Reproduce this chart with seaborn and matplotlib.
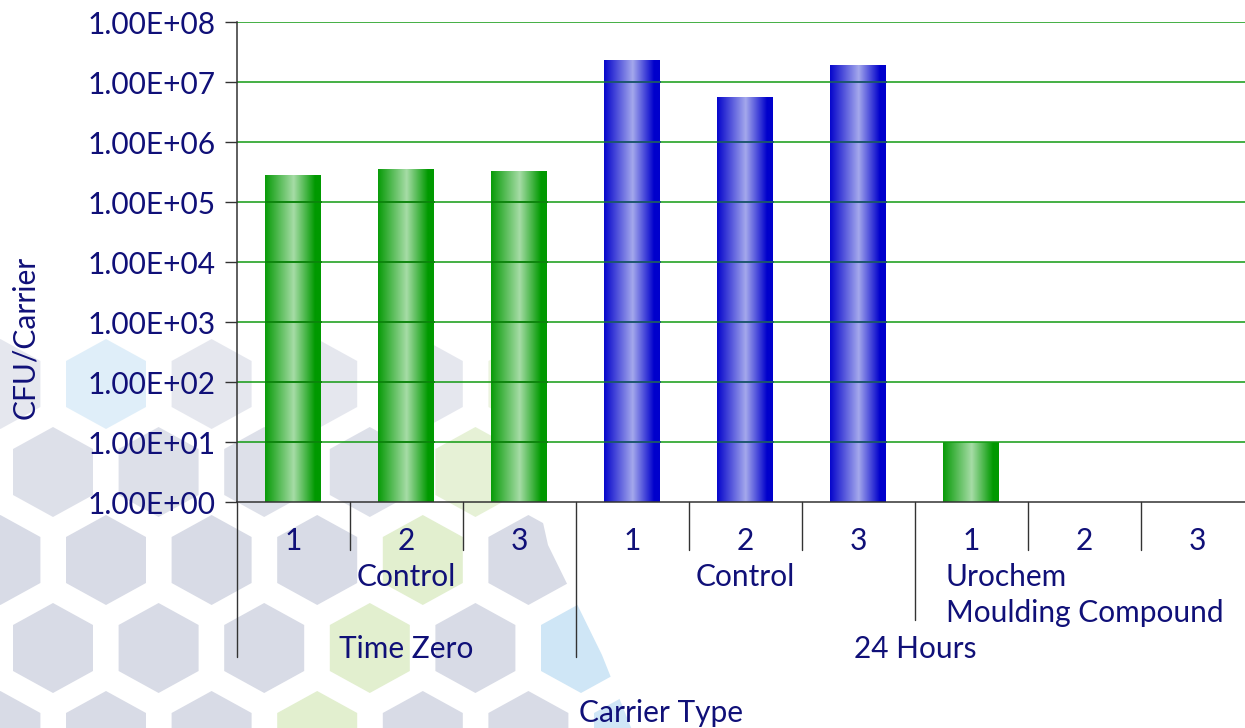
import numpy as np
import pandas as pd
import matplotlib
matplotlib.use("Agg")
import matplotlib.pyplot as plt
from matplotlib.patches import Polygon
from matplotlib.colors import LinearSegmentedColormap
from matplotlib.ticker import FixedLocator, NullLocator, FuncFormatter
from matplotlib.transforms import blended_transform_factory
import seaborn as sns

# ---- data -------------------------------------------------------------
periods = ["Time Zero"] * 3 + ["24 Hours"] * 6
carriers = ["Control"] * 6 + ["Urochem\nMoulding Compound"] * 3
replicates = ["1", "2", "3"] * 3
cfu_per_carrier = [2.9e5, 3.55e5, 3.3e5, 2.4e7, 5.7e6, 1.95e7, 10, 0, 0]
bar_shades = ["green"] * 3 + ["blue"] * 3 + ["green"] * 3
y_ticks = [1e0, 1e1, 1e2, 1e3, 1e4, 1e5, 1e6, 1e7, 1e8]

# ---- styling ----------------------------------------------------------
W, H = 1245, 728
NAVY = "#101078"
AXIS = "#333333"
GRID = "#129a12"
FONT = ["Lato", "DejaVu Sans"]
FS = 21.5

sns.set_theme(style="white")
plt.rcParams["font.family"] = FONT
plt.rcParams["text.color"] = NAVY

fig = plt.figure(figsize=(W / 100, H / 100), dpi=100)
fig.patch.set_facecolor("white")


def fx(px):
    return px / W


def fy(py):
    return 1 - py / H


# ---- honeycomb backdrop -------------------------------------------------
hex_gray = "#d8dbe6"
hex_blue = "#cfe6f6"
hex_green = "#e2efcf"
tinted = {
    (106, 384): hex_blue, (581, 648): hex_blue, (634, 736): hex_blue,
    (475, 472): hex_green, (423, 560): hex_green, (370, 648): hex_green,
    (317, 736): hex_green, (528, 384): hex_green,
}
row_alpha = {384: 0.65, 472: 0.85, 560: 1.0, 648: 1.0, 736: 1.0}
clip_px = [(-20, 330), (500, 330), (548, 545), (602, 655), (640, 750), (-20, 750)]
clip_poly = Polygon([(fx(x), fy(y)) for x, y in clip_px], closed=True,
                    transform=fig.transFigure, facecolor="none", edgecolor="none")
step_x = 105.6
for row_y, x0 in [(384, 0.4), (472, 53), (560, 0.4), (648, 53), (736, 0.4)]:
    for k in range(-1, 8):
        cx = x0 + k * step_x
        color = hex_gray
        for (tx, ty), c in tinted.items():
            if ty == row_y and abs(tx - cx) < 5:
                color = c
        verts = [(cx, row_y - 45), (cx + 40, row_y - 23), (cx + 40, row_y + 23),
                 (cx, row_y + 45), (cx - 40, row_y + 23), (cx - 40, row_y - 23)]
        hp = Polygon([(fx(x), fy(y)) for x, y in verts], closed=True,
                     transform=fig.transFigure, facecolor=color,
                     edgecolor="none", alpha=row_alpha[row_y], zorder=-5)
        hp.set_clip_path(clip_poly)
        fig.patches.append(hp)

# ---- axes ---------------------------------------------------------------
ax_left, ax_right, ax_top, ax_bottom = 237, 1254, 22.3, 502.3
ax = fig.add_axes([fx(ax_left), fy(ax_bottom), (ax_right - ax_left) / W,
                   (ax_bottom - ax_top) / H])
ax.set_facecolor("none")

df = pd.DataFrame({
    "period": periods,
    "carrier": carriers,
    "replicate": replicates,
    "cfu": cfu_per_carrier,
    "shade": bar_shades,
})
df["bar"] = [f"{p}|{c}|{r}" for p, c, r in zip(periods, carriers, replicates)]

shade_colors = {"green": "#009900", "blue": "#0000cc"}
sns.barplot(data=df, x="bar", y="cfu", hue="bar",
            palette=[shade_colors[s] for s in bar_shades],
            width=0.5, legend=False, ax=ax, saturation=1, errorbar=None)
ax.set_yscale("log")

# horizontal gridlines, drawn above the bars
for t in y_ticks[1:]:
    ax.axhline(t, color=GRID, lw=1.1, zorder=3)

# cylinder-like horizontal shading for every bar
ramps = {
    "green": LinearSegmentedColormap.from_list(
        "g", [(0, "#0a9c0a"), (0.5, "#a6dca6"), (0.88, "#009900"), (1, "#009900")]),
    "blue": LinearSegmentedColormap.from_list(
        "b", [(0, "#0808cc"), (0.5, "#a4a8ec"), (0.88, "#0000cc"), (1, "#0000cc")]),
}
grid_on_bar = {"green": "#0a7f0a", "blue": "#1d4680"}
grad = np.linspace(0, 1, 256)[None, :]
for patch, shade in zip(list(ax.patches), bar_shades):
    h = patch.get_height()
    x0 = patch.get_x()
    w = patch.get_width()
    patch.set_facecolor("none")
    patch.set_edgecolor("none")
    if not np.isfinite(h) or h <= 1:
        continue
    ax.imshow(grad, cmap=ramps[shade], extent=[x0, x0 + w, 1, h],
              aspect="auto", zorder=2, interpolation="bilinear")
    # gridline tint where it crosses the bar
    for t in y_ticks[1:]:
        if t < h:
            ax.hlines(t, x0, x0 + w, color=grid_on_bar[shade], lw=1.1, zorder=3.5)

ax.set_xlim(-0.5, 8.5)
ax.set_ylim(1, 1e8)
ax.set_aspect("auto")

ax.yaxis.set_major_locator(FixedLocator(y_ticks))
ax.yaxis.set_minor_locator(NullLocator())
ax.yaxis.set_major_formatter(FuncFormatter(lambda v, _: f"{v:.2E}"))
ax.tick_params(axis="y", length=8.6, width=1, color=AXIS, pad=6.5,
               labelsize=FS, labelcolor=NAVY, left=True)
for lab in ax.get_yticklabels():
    lab.set_family(FONT)

ax.set_xticks(range(len(replicates)))
ax.set_xticklabels([])
ax.tick_params(axis="x", length=0)
ax.set_xlabel("")
ax.set_ylabel("")

for side in ["top", "right"]:
    ax.spines[side].set_visible(False)
for side in ["left", "bottom"]:
    ax.spines[side].set_color(AXIS)
    ax.spines[side].set_linewidth(1.1)
    ax.spines[side].set_zorder(4)

# ---- multi-level category axis -----------------------------------------
axis_h = ax_bottom - ax_top
trans = blended_transform_factory(ax.transData, ax.transAxes)


def ay(py):
    return (ax_bottom - py) / axis_h


for xs in [0.5, 1.5, 3.5, 4.5, 6.5, 7.5]:
    ax.plot([xs, xs], [0, ay(550)], color=AXIS, lw=1, transform=trans, clip_on=False)
for xs, end in [(-0.5, 657), (2.5, 657), (5.5, 620), (8.5, 657)]:
    ax.plot([xs, xs], [0, ay(end)], color=AXIS, lw=1, transform=trans, clip_on=False)

for i, r in enumerate(replicates):
    ax.text(i, ay(541), r, transform=trans, ha="center", va="center",
            fontsize=FS, color=NAVY, family=FONT, clip_on=False)

# carrier labels, centred over each carrier block
blocks = []
for i, (p, c) in enumerate(zip(periods, carriers)):
    if blocks and blocks[-1][0] == (p, c):
        blocks[-1][2] = i
    else:
        blocks.append([(p, c), i, i])
for (p, c), a, b in blocks:
    if "\n" in c:
        ax.text((a + b) / 2, ay(595), c, transform=trans, ha="center", va="center",
                fontsize=FS, color=NAVY, family=FONT, multialignment="left",
                linespacing=1.35, clip_on=False)
    else:
        ax.text((a + b) / 2, ay(577), c, transform=trans, ha="center", va="center",
                fontsize=FS, color=NAVY, family=FONT, clip_on=False)

# period labels
period_blocks = []
for i, p in enumerate(periods):
    if period_blocks and period_blocks[-1][0] == p:
        period_blocks[-1][2] = i
    else:
        period_blocks.append([p, i, i])
for p, a, b in period_blocks:
    ax.text((a + b) / 2, ay(649), p, transform=trans, ha="center", va="center",
            fontsize=FS, color=NAVY, family=FONT, clip_on=False)

fig.text(fx(661), fy(713), "Carrier Type", ha="center", va="center",
         fontsize=FS, color=NAVY, family=FONT)
fig.text(fx(25), fy(337), "CFU/Carrier", ha="center", va="center",
         rotation=90, fontsize=FS, color=NAVY, family=FONT)

fig.savefig("out.png", dpi=100, facecolor="white")
